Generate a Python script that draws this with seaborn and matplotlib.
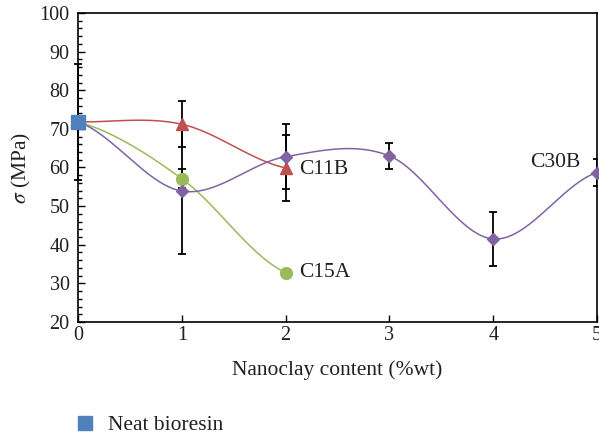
import numpy as np
import pandas as pd
import matplotlib
matplotlib.use("Agg")
import matplotlib.pyplot as plt
import seaborn as sns
from matplotlib.ticker import MultipleLocator
from matplotlib.lines import Line2D

# ---- data ----
neat_x = [0]
neat_y = [71.8]
neat_err = [15.0]

c11b_x = [0, 1, 2]
c11b_y = [71.8, 71.2, 59.9]
c11b_err = [None, 6.0, 8.6]

c15a_x = [0, 1, 2]
c15a_y = [71.8, 57.1, 32.8]
c15a_err = [None, 2.4, None]

c30b_x = [0, 1, 2, 3, 4, 5]
c30b_y = [71.8, 53.9, 62.8, 63.0, 41.5, 58.7]
c30b_err = [None, 16.2, 8.4, 3.3, 7.0, 3.4]

labels = ["C11B", "C15A", "C30B"]
xticks = [0, 1, 2, 3, 4, 5]

BLUE = "#4F81BD"
RED = "#C0504D"
GREEN = "#9BBB59"
PURPLE = "#8064A2"
TXT = "#231f20"


def smooth(xs, ys, n=60):
    xs = np.asarray(xs, float)
    ys = np.asarray(ys, float)
    m = len(xs)
    out_x, out_y = [], []
    for i in range(m - 1):
        p0 = ys[i - 1] if i > 0 else ys[i]
        p1, p2 = ys[i], ys[i + 1]
        p3 = ys[i + 2] if i + 2 < m else ys[i + 1]
        m1 = (p2 - p0) / 2.0
        m2 = (p3 - p1) / 2.0
        t = np.linspace(0, 1, n)
        h00 = 2 * t**3 - 3 * t**2 + 1
        h10 = t**3 - 2 * t**2 + t
        h01 = -2 * t**3 + 3 * t**2
        h11 = t**3 - t**2
        yy = h00 * p1 + h10 * m1 + h01 * p2 + h11 * m2
        xx = xs[i] + t * (xs[i + 1] - xs[i])
        out_x.extend(xx)
        out_y.extend(yy)
    return pd.DataFrame({"x": out_x, "y": out_y})


sns.set_theme(style="ticks")
plt.rcParams["font.family"] = ["Liberation Serif", "DejaVu Serif"]
plt.rcParams["mathtext.fontset"] = "stix"

FS = 14.5
FSL = 15.5

fig = plt.figure(figsize=(5.99, 4.37), dpi=100)
ax = fig.add_axes([78 / 599, 1 - 322 / 437, (597 - 78) / 599, (322 - 13) / 437])

series = [
    (c11b_x, c11b_y, c11b_err, RED, "^", 9),
    (c15a_x, c15a_y, c15a_err, GREEN, "o", 8.5),
    (c30b_x, c30b_y, c30b_err, PURPLE, "D", 6.5),
]

for xs, ys, errs, col, mk, ms in series:
    df = smooth(xs, ys)
    sns.lineplot(data=df, x="x", y="y", ax=ax, color=col, lw=1.1, zorder=2,
                 estimator=None, sort=False)

# error bars
for xs, ys, errs, col, mk, ms in series:
    for x, y, e in zip(xs, ys, errs):
        if e is not None:
            ax.errorbar([x], [y], yerr=[e], fmt="none", ecolor="black",
                        elinewidth=1.3, capsize=3.2, capthick=1.3, zorder=3)
ax.errorbar(neat_x, neat_y, yerr=neat_err, fmt="none", ecolor="black",
            elinewidth=1.3, capsize=3.2, capthick=1.3, zorder=3, clip_on=False)

# markers
for xs, ys, errs, col, mk, ms in series:
    ax.plot(xs[1:], ys[1:], linestyle="none", marker=mk, markersize=ms,
            color=col, markeredgecolor=col, zorder=4, clip_on=False)
ax.plot(neat_x, neat_y, linestyle="none", marker="s", markersize=10.5,
        color=BLUE, zorder=5, clip_on=False)

# labels
ax.text(2.13, 59.4, labels[0], fontsize=FSL, color=TXT, va="center", ha="left")
ax.text(2.13, 32.7, labels[1], fontsize=FSL, color=TXT, va="center", ha="left")
ax.text(4.836, 61.4, labels[2], fontsize=FSL, color=TXT, va="center", ha="right")

ax.set_xlim(0, 5)
ax.set_ylim(20, 100)
ax.set_xticks(xticks)
ax.yaxis.set_major_locator(MultipleLocator(10))
ax.yaxis.set_minor_locator(MultipleLocator(2))
ax.tick_params(axis="both", which="major", direction="in", length=5, width=1,
               labelsize=FS, labelcolor=TXT, color="black")
ax.tick_params(axis="y", which="minor", direction="in", length=3, width=1,
               color="black")
ax.tick_params(axis="y", which="major", pad=6)
ax.tick_params(axis="x", which="major", pad=3)
for sp in ax.spines.values():
    sp.set_visible(True)
    sp.set_color("black")
    sp.set_linewidth(1.2)

ax.set_xlabel("Nanoclay content (%wt)", fontsize=FSL, color=TXT, labelpad=11)
ax.set_ylabel(r"$\sigma$ (MPa)", fontsize=FSL, color=TXT, labelpad=5)

handle = Line2D([], [], linestyle="none", marker="s", markersize=10, color=BLUE)
fig.legend([handle], ["Neat bioresin"], loc="center left",
           bbox_to_anchor=(74.5 / 599, 1 - 425 / 437), frameon=False,
           fontsize=FSL, handlelength=1.0, handletextpad=0.55,
           borderpad=0, borderaxespad=0, labelcolor=TXT)

fig.savefig("out.png", dpi=100)
